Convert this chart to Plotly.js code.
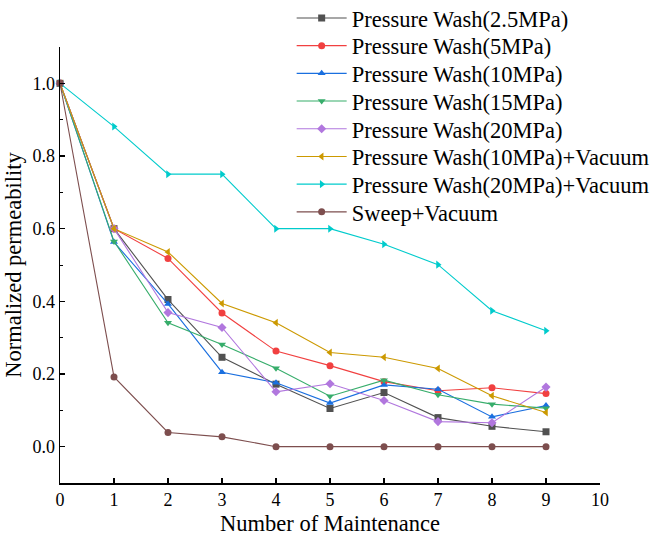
<!DOCTYPE html>
<html>
<head>
<meta charset="utf-8">
<script src="https://cdn.plot.ly/plotly-3.0.1.min.js"></script>
<style>html,body{margin:0;padding:0;background:#fff;}#chart{width:657px;height:544px;}</style>
</head>
<body>
<div id="chart"></div>
<script>
var maintenance = [0, 1, 2, 3, 4, 5, 6, 7, 8, 9];

var seriesNames = [
  "Pressure Wash(2.5MPa)",
  "Pressure Wash(5MPa)",
  "Pressure Wash(10MPa)",
  "Pressure Wash(15MPa)",
  "Pressure Wash(20MPa)",
  "Pressure Wash(10MPa)+Vacuum",
  "Pressure Wash(20MPa)+Vacuum",
  "Sweep+Vacuum"
];

var wash2_5 = [1.0, 0.600, 0.405, 0.246, 0.172, 0.105, 0.149, 0.080, 0.056, 0.041];
var wash5 = [1.0, 0.600, 0.518, 0.368, 0.263, 0.223, 0.179, 0.154, 0.162, 0.146];
var wash10 = [1.0, 0.563, 0.393, 0.205, 0.176, 0.120, 0.170, 0.158, 0.082, 0.113];
var wash15 = [1.0, 0.565, 0.341, 0.281, 0.216, 0.139, 0.183, 0.143, 0.117, 0.106];
var wash20 = [1.0, 0.600, 0.369, 0.328, 0.151, 0.173, 0.127, 0.069, 0.066, 0.164];
var wash10Vac = [1.0, 0.600, 0.536, 0.394, 0.341, 0.259, 0.246, 0.215, 0.140, 0.094];
var wash20Vac = [1.0, 0.881, 0.750, 0.750, 0.600, 0.600, 0.557, 0.501, 0.374, 0.319];
var sweepVac = [1.0, 0.192, 0.039, 0.027, 0.0, 0.0, 0.0, 0.0, 0.0, 0.0];

var allValues = [wash2_5, wash5, wash10, wash15, wash20, wash10Vac, wash20Vac, sweepVac];
var colors = ["#515151", "#F14040", "#1A6FDF", "#37AD6B", "#B177DE", "#CC9900", "#00CBCC", "#7D4E4E"];
var symbols = ["square", "circle", "triangle-up", "triangle-down", "diamond", "triangle-left", "triangle-right", "circle"];

var FONT = "Liberation Serif, Times New Roman, serif";

var traces = allValues.map(function (vals, i) {
  return {
    x: maintenance,
    y: vals,
    name: seriesNames[i],
    type: "scatter",
    mode: "lines+markers",
    line: {color: colors[i], width: 1.1},
    marker: {color: colors[i], symbol: symbols[i], size: 7},
    cliponaxis: false,
    legend: i === 0 ? "legend" : "legend" + (i + 1)
  };
});

var layout = {
  width: 657,
  height: 544,
  margin: {l: 60, r: 57, t: 47, b: 61, autoexpand: false},
  paper_bgcolor: "#fff",
  plot_bgcolor: "#fff",
  font: {family: FONT, color: "#000", size: 18},
  showlegend: true,
  xaxis: {
    range: [0, 10],
    tick0: 0, dtick: 1,
    showline: true, linecolor: "#000", linewidth: 1.5,
    ticks: "inside", ticklen: 5, tickwidth: 1.2, tickcolor: "#000",
    showgrid: false, zeroline: false,
    tickfont: {family: FONT, size: 18, color: "#000"},
    title: {text: "Number of Maintenance", font: {family: FONT, size: 22.5, color: "#000"}, standoff: 6}
  },
  yaxis: {
    range: [-0.1, 1.1],
    tick0: 0, dtick: 0.2, tickformat: ".1f",
    showline: true, linecolor: "#000", linewidth: 1.5,
    ticks: "inside", ticklen: 5, tickwidth: 1.2, tickcolor: "#000",
    minor: {dtick: 0.1, tick0: 0, ticks: "inside", ticklen: 3, tickwidth: 1, tickcolor: "#000"},
    showgrid: false, zeroline: false,
    tickfont: {family: FONT, size: 18, color: "#000"},
    title: {text: "Normalized permeability", font: {family: FONT, size: 22.5, color: "#000"}, standoff: 4}
  }
};

// one legend per entry so that the row spacing matches the reference
var plotTopPx = 47, plotBottomPx = 544 - 61, plotHeightPx = plotBottomPx - plotTopPx;
for (var i = 0; i < seriesNames.length; i++) {
  var key = i === 0 ? "legend" : "legend" + (i + 1);
  var centerPx = 18.3 + i * 27.7;
  layout[key] = {
    x: 0.429, xanchor: "left",
    y: (plotBottomPx - centerPx) / plotHeightPx, yanchor: "middle",
    bgcolor: "rgba(0,0,0,0)",
    borderwidth: 0,
    itemwidth: 50,
    font: {family: FONT, size: 22.5, color: "#000"}
  };
}

Plotly.newPlot("chart", traces, layout, {displayModeBar: false, staticPlot: true});
</script>
</body>
</html>
